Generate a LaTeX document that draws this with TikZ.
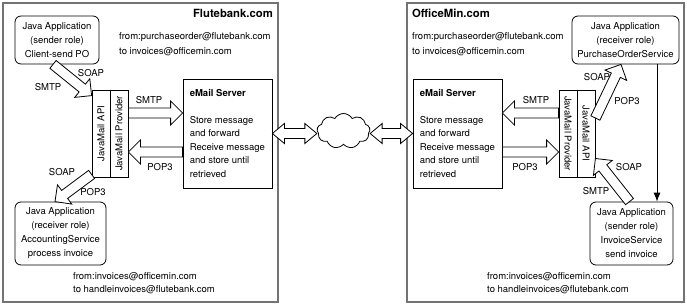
\documentclass[tikz,border=0pt]{standalone}
\usepackage{fontspec}
\setmainfont{TeX Gyre Heros}
\usetikzlibrary{calc,shapes.symbols,arrows.meta}
\newcommand\fatarrow[3][]{%
  \coordinate (fas) at #2; \coordinate (fae) at #3;
  \coordinate (fah) at ($(fae)!12pt!(fas)$);
  \draw[fat,#1] ($(fas)!5pt!90:(fae)$) -- ($(fah)!5pt!90:(fae)$) -- ($(fah)!12pt!90:(fae)$) -- (fae)
    -- ($(fah)!12pt!-90:(fae)$) -- ($(fah)!5pt!-90:(fae)$) -- ($(fas)!5pt!-90:(fae)$) -- cycle;}
\newcommand\dblarrow[3][]{%
  \coordinate (das) at #2; \coordinate (dae) at #3;
  \coordinate (dah) at ($(das)!12pt!(dae)$);
  \coordinate (dak) at ($(dae)!12pt!(das)$);
  \draw[fat,#1] (das) -- ($(dah)!10pt!90:(dae)$) -- ($(dah)!5pt!90:(dae)$) -- ($(dak)!5pt!90:(dae)$)
    -- ($(dak)!10pt!90:(dae)$) -- (dae) -- ($(dak)!10pt!-90:(dae)$) -- ($(dak)!5pt!-90:(dae)$)
    -- ($(dah)!5pt!-90:(dae)$) -- ($(dah)!10pt!-90:(dae)$) -- cycle;}
\begin{document}
\begin{tikzpicture}[x=1pt,y=-1pt,
  font=\fontsize{9.5}{13.5}\selectfont,
  frame/.style={draw=black!55, line width=1.6pt},
  appbox/.style={draw, rounded corners=6pt, line width=0.8pt, align=center, inner sep=0pt,
     font=\fontsize{9.5}{14}\selectfont},
  strip/.style={draw, line width=0.8pt, inner sep=0pt, minimum width=18pt, minimum height=87pt},
  srvbox/.style={draw, line width=0.8pt, inner sep=0pt, minimum width=89pt, minimum height=109pt},
  fat/.style={draw, fill=white, line width=0.8pt, line join=miter},
  lbl/.style={inner sep=0pt},
  txt/.style={align=left, inner sep=0pt, anchor=base west},
  title/.style={inner sep=0pt, font=\bfseries\fontsize{11.3}{13}\selectfont}]
\useasboundingbox (0,0) rectangle (687,307);
% frames
\draw[frame] (3,3) rectangle (278,302);
\draw[frame] (407,3) rectangle (684,302);
% titles and addresses
\node[title, anchor=base east] (titleL) at (273,18) {Flutebank.com};
\node[title, anchor=base west] (titleR) at (412,18) {OfficeMin.com};
\node[txt, font=\fontsize{9.5}{15}\selectfont] (adrL) at (119,54.5) {from:purchaseorder@flutebank.com\\to invoices@officemin.com};
\node[txt, font=\fontsize{9.5}{15}\selectfont] (adrR) at (412,54.5) {from:purchaseorder@flutebank.com\\to invoices@officemin.com};
\node[txt, font=\fontsize{9.5}{13}\selectfont] (adrL2) at (73,292.5) {from:invoices@officemin.com\\to handleinvoices@flutebank.com};
\node[txt, font=\fontsize{9.5}{13}\selectfont] (adrR2) at (487,292.5) {from:invoices@officemin.com\\to handleinvoices@flutebank.com};
% application boxes
\node[appbox, minimum width=84pt, minimum height=48pt] (sendL) at (57,40) {Java Application\\(sender role)\\Client-send PO};
\node[appbox, minimum width=91pt, minimum height=63pt] (recvL) at (60.5,233.5) {Java Application\\(receiver role)\\AccountingService\\process invoice};
\node[appbox, minimum width=107pt, minimum height=48pt] (recvR) at (625.5,40) {Java Application\\(receiver role)\\PurchaseOrderService};
\node[appbox, minimum width=83pt, minimum height=63pt] (sendR) at (631.5,233.5) {Java Application\\(sender role)\\InvoiceService\\send invoice};
% JavaMail strips
\node[strip] (jmapiL) at (101,133.5) {\rotatebox{90}{JavaMail API}};
\node[strip] (jmprovL) at (119,133.5) {\rotatebox{90}{JavaMail Provider}};
\node[strip] (jmprovR) at (568,133.5) {\rotatebox{-90}{JavaMail Provider}};
\node[strip] (jmapiR) at (586,133.5) {\rotatebox{-90}{JavaMail API}};
% mail servers
\node[srvbox] (srvL) at (227.5,133.5) {};
\node[srvbox] (srvR) at (457.5,133.5) {};
\node[txt, anchor=north west] (srvLt) at ([xshift=7pt,yshift=-10.5pt]srvL.north west) {\textbf{eMail Server}\\[13.5pt]Store message\\and forward\\Receive message\\and store until\\retrieved};
\node[txt, anchor=north west] (srvRt) at ([xshift=7pt,yshift=-10.5pt]srvR.north west) {\textbf{eMail Server}\\[13.5pt]Store message\\and forward\\Receive message\\and store until\\retrieved};
% cloud
\node[cloud, draw, line width=0.8pt, cloud puffs=9, cloud puff arc=120, aspect=1.5, minimum width=53pt, minimum height=35pt, inner sep=0pt] (cloud) at (343.5,131) {};
% fat arrows left
\fatarrow{([xshift=-4pt]sendL.south)}{([yshift=-6pt]jmapiL.north west)}
\fatarrow{([yshift=3pt]jmapiL.south west)}{([xshift=-5.5pt]recvL.north)}
\fatarrow{([yshift=20.5pt]jmprovL.east)}{([yshift=20.5pt]srvL.west)}
\fatarrow{([yshift=-18.5pt]srvL.west)}{([yshift=-18.5pt]jmprovL.east)}
% fat arrows right
\fatarrow{([yshift=20.5pt]jmprovR.west)}{([yshift=20.5pt]srvR.east)}
\fatarrow{([yshift=-18.5pt]srvR.east)}{([yshift=-18.5pt]jmprovR.west)}
\fatarrow{([yshift=15.5pt]jmapiR.east)}{([xshift=-4.5pt]recvR.south)}
\fatarrow{([xshift=-2pt]sendR.north)}{([yshift=-25pt]jmapiR.east)}
% double arrows
\dblarrow{(srvL.east)}{(cloud.west |- srvL.east)}
\dblarrow{(cloud.east |- srvR.west)}{(srvR.west)}
% vertical arrow
\draw[line width=0.8pt, -{Latex[length=9pt,width=7pt]}] ([xshift=31.5pt]recvR.south) -- ([xshift=25.5pt]sendR.north);
% labels
\node[lbl] (l1) at (91,73) {SOAP};
\node[lbl] (l2) at (48,87) {SMTP};
\node[lbl] (l3) at (149,100) {SMTP};
\node[lbl] (l4) at (160,167) {POP3};
\node[lbl] (l5) at (62,172) {SOAP};
\node[lbl] (l6) at (93,192) {POP3};
\node[lbl] (r1) at (536,100) {SMTP};
\node[lbl] (r2) at (525,167) {POP3};
\node[lbl] (r3) at (597,77) {SOAP};
\node[lbl] (r4) at (627,101) {POP3};
\node[lbl] (r5) at (629,167) {SOAP};
\node[lbl] (r6) at (596,191) {SMTP};
\end{tikzpicture}
\end{document}
